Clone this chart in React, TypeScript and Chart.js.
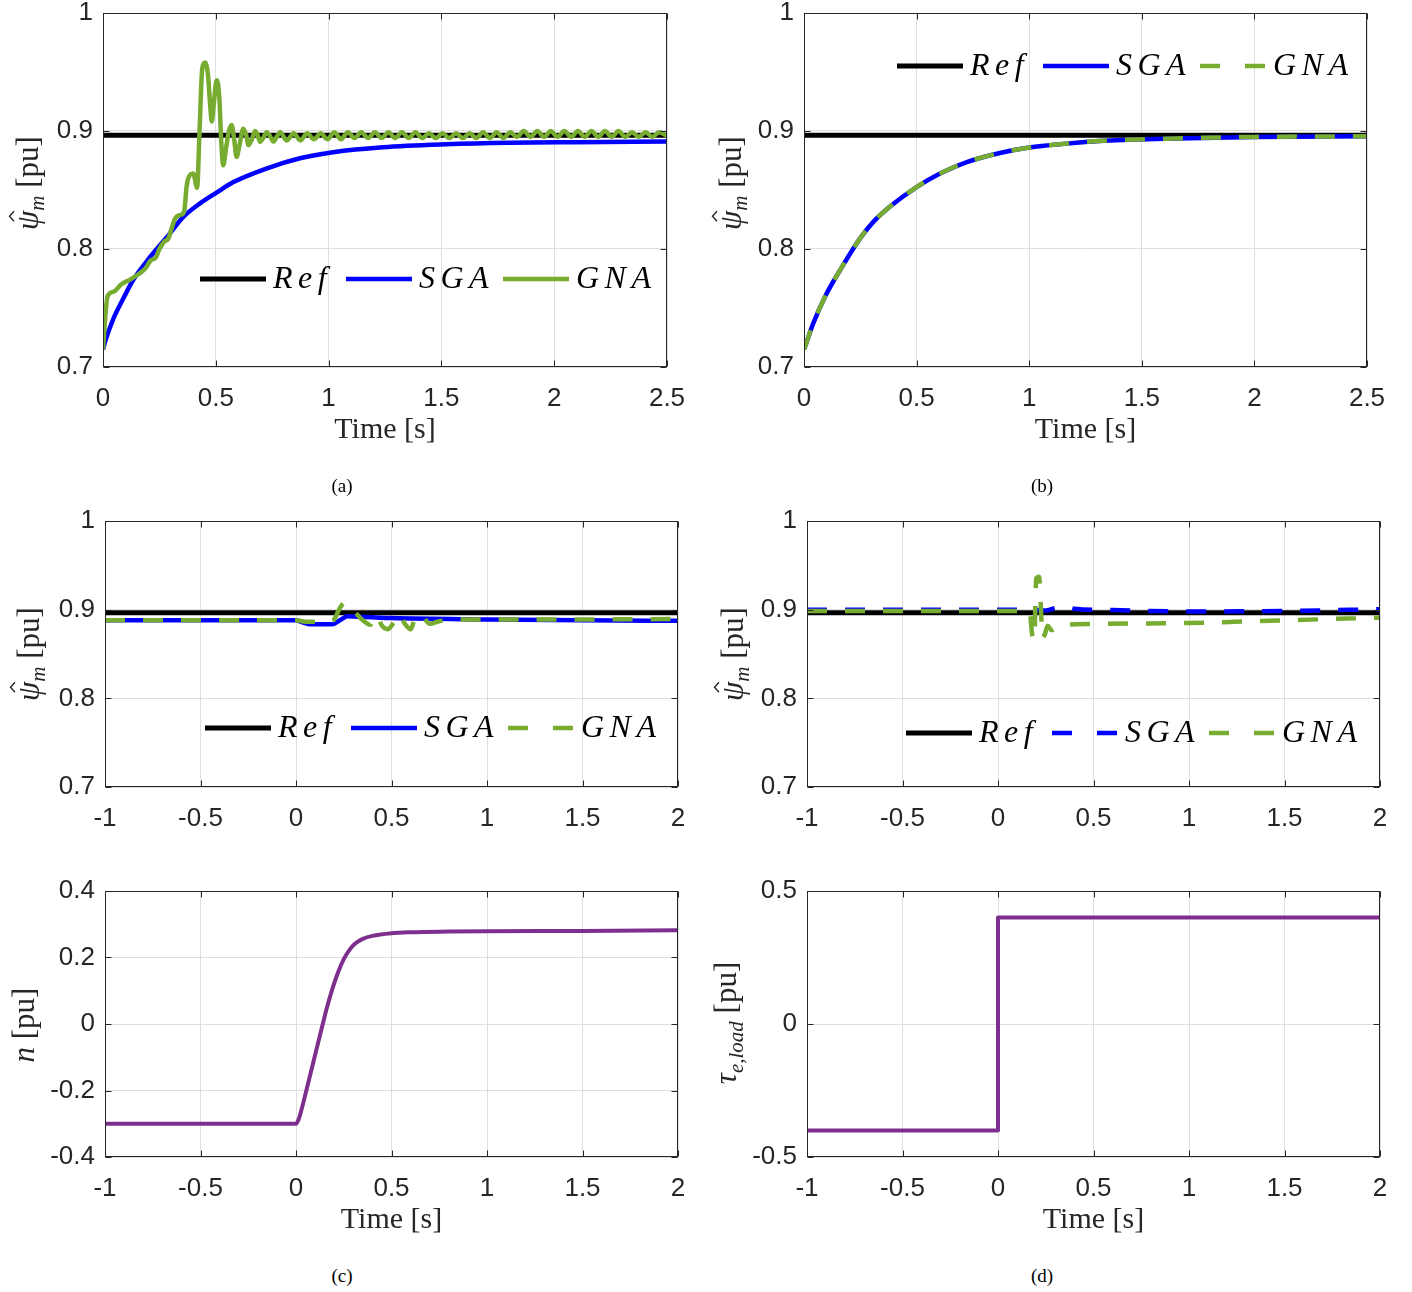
import React, { useEffect, useRef } from 'react';
import { Chart, registerables } from 'chart.js';

Chart.register(...registerables);

// ---------------- DATA ----------------
// Panel (a): start-up, psi_m estimate [pu] vs time [s]
const refA: [number, number][] = [[0, 0.8965], [2.5, 0.8965]];
const sgaA: [number, number][] = [
  [0, 0.715], [0.01, 0.722], [0.044, 0.74], [0.09, 0.758], [0.133, 0.7735], [0.208, 0.793],
  [0.283, 0.81], [0.355, 0.827], [0.43, 0.8387], [0.505, 0.848], [0.576, 0.8565], [0.727, 0.8684],
  [0.873, 0.8769], [1.02, 0.882], [1.24, 0.8862], [1.52, 0.8887], [1.8, 0.89], [2.1, 0.8905], [2.5, 0.891],
];
const gnaA: [number, number][] = [
  [0, 0.715], [0.01, 0.742], [0.02, 0.76], [0.05, 0.764], [0.08, 0.77], [0.12, 0.774], [0.16, 0.779],
  [0.19, 0.784], [0.21, 0.79], [0.235, 0.793], [0.25, 0.8], [0.27, 0.806], [0.29, 0.809], [0.305, 0.818],
  [0.32, 0.826], [0.345, 0.829], [0.36, 0.832], [0.37, 0.852], [0.378, 0.86], [0.4, 0.864], [0.417, 0.852],
  [0.428, 0.9], [0.44, 0.953], [0.452, 0.958], [0.465, 0.948], [0.475, 0.922], [0.482, 0.908], [0.492, 0.925],
  [0.504, 0.943], [0.515, 0.93], [0.525, 0.888], [0.533, 0.871], [0.545, 0.885], [0.557, 0.899], [0.57, 0.905],
  [0.582, 0.892], [0.592, 0.878], [0.605, 0.888], [0.622, 0.902], [0.634, 0.897], [0.645, 0.888], [0.66, 0.893],
  [0.674, 0.9], [0.686, 0.896], [0.696, 0.8907], [0.71, 0.894], [0.726, 0.899], [0.74, 0.896], [0.755, 0.891],
  [0.77, 0.895], [0.785, 0.899], [0.815, 0.892], [0.845, 0.898], [0.875, 0.892], [0.905, 0.898], [0.935, 0.893],
  [0.965, 0.898], [0.995, 0.893], [1.025, 0.899], [1.055, 0.893], [1.085, 0.899], [1.115, 0.894], [1.145, 0.899],
  [1.175, 0.894], [1.205, 0.899], [1.235, 0.894], [1.265, 0.899], [1.295, 0.894], [1.325, 0.899], [1.355, 0.894],
  [1.385, 0.899], [1.415, 0.894], [1.445, 0.898], [1.475, 0.894], [1.505, 0.898], [1.535, 0.894], [1.565, 0.898],
  [1.595, 0.894], [1.625, 0.898], [1.655, 0.894], [1.685, 0.899], [1.715, 0.894], [1.745, 0.899], [1.775, 0.894],
  [1.805, 0.899], [1.835, 0.895], [1.865, 0.9], [1.895, 0.895], [1.925, 0.9], [1.955, 0.895], [1.985, 0.9],
  [2.015, 0.895], [2.045, 0.9], [2.075, 0.895], [2.105, 0.9], [2.135, 0.895], [2.165, 0.9], [2.195, 0.895],
  [2.225, 0.9], [2.255, 0.895], [2.285, 0.9], [2.315, 0.895], [2.345, 0.899], [2.375, 0.895], [2.405, 0.899],
  [2.435, 0.895], [2.465, 0.899], [2.5, 0.896],
];

// Panel (b)
const refB: [number, number][] = [[0, 0.8965], [2.5, 0.8965]];
const sgaB: [number, number][] = [
  [0, 0.715], [0.004, 0.717], [0.041, 0.737], [0.1, 0.762], [0.16, 0.782], [0.249, 0.809], [0.308, 0.823],
  [0.382, 0.836], [0.5, 0.8525], [0.604, 0.864], [0.723, 0.8737], [0.87, 0.8814], [1.0, 0.886], [1.166, 0.8893],
  [1.31, 0.8915], [1.6, 0.8935], [2.0, 0.895], [2.5, 0.8955],
];
const gnaB: [number, number][] = [
  [0, 0.715], [0.004, 0.717], [0.041, 0.737], [0.1, 0.762], [0.16, 0.782], [0.249, 0.809], [0.308, 0.823],
  [0.382, 0.836], [0.5, 0.8525], [0.604, 0.864], [0.723, 0.8737], [0.87, 0.8814], [1.0, 0.886], [1.166, 0.8893],
  [1.31, 0.8915], [1.6, 0.8935], [2.0, 0.895], [2.5, 0.8955],
];

// Panel (c) top
const refC: [number, number][] = [[-1, 0.8965], [2, 0.8965]];
const sgaC: [number, number][] = [
  [-1, 0.888], [0, 0.888], [0.03, 0.886], [0.07, 0.8835], [0.19, 0.8835], [0.23, 0.888], [0.27, 0.8925],
  [0.32, 0.892], [0.5, 0.8905], [1.0, 0.889], [1.5, 0.888], [2.0, 0.8875],
];
const gnaC: [number, number][] = [
  [-1, 0.888], [0, 0.888], [0.05, 0.8865], [0.17, 0.8865], [0.2, 0.889], [0.23, 0.902], [0.255, 0.908],
  [0.28, 0.904], [0.31, 0.897], [0.35, 0.888], [0.39, 0.883], [0.42, 0.894], [0.45, 0.882], [0.48, 0.878],
  [0.51, 0.885], [0.54, 0.895], [0.57, 0.884], [0.6, 0.878], [0.63, 0.894], [0.66, 0.893], [0.7, 0.884],
  [0.75, 0.887], [0.85, 0.889], [1.0, 0.889], [1.5, 0.889], [2.0, 0.8895],
];
// Panel (c) bottom: speed n [pu]
const speedC: [number, number][] = [
  [-1, -0.3], [0, -0.3], [0.015, -0.285], [0.03, -0.255], [0.05, -0.21], [0.08, -0.14], [0.11, -0.07],
  [0.136, -0.01], [0.16, 0.045], [0.19, 0.105], [0.22, 0.155], [0.25, 0.195], [0.28, 0.223], [0.31, 0.242],
  [0.35, 0.256], [0.4, 0.265], [0.5, 0.273], [0.6, 0.276], [0.8, 0.278], [1.0, 0.279], [1.5, 0.28], [2.0, 0.282],
];

// Panel (d) top
const refD: [number, number][] = [[-1, 0.8965], [2, 0.8965]];
const sgaD: [number, number][] = [
  [-1, 0.9], [0.2, 0.9], [0.25, 0.899], [0.3, 0.902], [0.35, 0.9035], [0.4, 0.901], [0.6, 0.8995],
  [1.0, 0.898], [1.5, 0.8985], [2.0, 0.9005],
];
const gnaD: [number, number][] = [
  [-1, 0.8985], [0.165, 0.8985], [0.18, 0.87], [0.19, 0.866], [0.2, 0.935], [0.215, 0.937], [0.225, 0.9],
  [0.232, 0.868], [0.245, 0.872], [0.26, 0.882], [0.28, 0.877], [0.32, 0.882], [0.5, 0.884], [1.0, 0.885],
  [1.5, 0.888], [2.0, 0.891],
];
// Panel (d) bottom: load torque step [pu]
const torqueD: [number, number][] = [[-1, -0.4], [0, -0.4], [0, 0.4], [2, 0.4]];

// Ticks
const xTicksTop = [0, 0.5, 1, 1.5, 2, 2.5];
const xTickLabelsTop = ['0', '0.5', '1', '1.5', '2', '2.5'];
const xTicksCD = [-1, -0.5, 0, 0.5, 1, 1.5, 2];
const xTickLabelsCD = ['-1', '-0.5', '0', '0.5', '1', '1.5', '2'];
const yTicksPsi = [0.7, 0.8, 0.9, 1];
const yTickLabelsPsi = ['0.7', '0.8', '0.9', '1'];
const yTicksN = [-0.4, -0.2, 0, 0.2, 0.4];
const yTickLabelsN = ['-0.4', '-0.2', '0', '0.2', '0.4'];
const yTicksTau = [-0.5, 0, 0.5];
const yTickLabelsTau = ['-0.5', '0', '0.5'];

const legendLabels = ['Ref', 'SGA', 'GNA'];
const captions = ['(a)', '(b)', '(c)', '(d)'];

// ---------------- STYLE ----------------
const BLACK = '#000000';
const BLUE = '#0000ff';
const GREEN = '#77ac30';
const PURPLE = '#7e2f8e';
const DASH = [20, 18];
const PT = 30;
const PR = 40;
const YW = 100;
const TICK_FONT = '"Liberation Sans", Arial, sans-serif';
const SERIF = '"Liberation Serif", "Times New Roman", serif';

type Series = { pts: [number, number][]; color: string; width: number; dash?: number[]; order: number; step?: boolean };
type LegendItem = { label: string; color: string; dash?: number[] };
type PanelCfg = {
  key: string;
  area: [number, number, number, number];
  xh: number;
  xMin: number; xMax: number; xTicks: number[]; xLabels: string[];
  yMin: number; yMax: number; yTicks: number[]; yLabels: string[];
  series: Series[];
  legend?: { xs: number[]; y: number; items: LegendItem[] };
  yTitle: 'psi' | 'n' | 'tau';
  yTitlePos: [number, number];
  xTitle: boolean;
};

const panels: PanelCfg[] = [
  {
    key: 'a', area: [103, 13, 667, 367], xh: 93,
    xMin: 0, xMax: 2.5, xTicks: xTicksTop, xLabels: xTickLabelsTop,
    yMin: 0.7, yMax: 1, yTicks: yTicksPsi, yLabels: yTickLabelsPsi,
    series: [
      { pts: refA, color: BLACK, width: 5, order: 3 },
      { pts: sgaA, color: BLUE, width: 4.5, order: 2 },
      { pts: gnaA, color: GREEN, width: 4.5, order: 1 },
    ],
    legend: { xs: [97, 243, 400], y: 266, items: [
      { label: legendLabels[0], color: BLACK }, { label: legendLabels[1], color: BLUE }, { label: legendLabels[2], color: GREEN }] },
    yTitle: 'psi', yTitlePos: [30, 183], xTitle: true,
  },
  {
    key: 'b', area: [804, 13, 1367, 367], xh: 93,
    xMin: 0, xMax: 2.5, xTicks: xTicksTop, xLabels: xTickLabelsTop,
    yMin: 0.7, yMax: 1, yTicks: yTicksPsi, yLabels: yTickLabelsPsi,
    series: [
      { pts: refB, color: BLACK, width: 5, order: 3 },
      { pts: sgaB, color: BLUE, width: 4.5, order: 2 },
      { pts: gnaB, color: GREEN, width: 4.5, dash: DASH, order: 1 },
    ],
    legend: { xs: [93, 239, 396], y: 53, items: [
      { label: legendLabels[0], color: BLACK }, { label: legendLabels[1], color: BLUE }, { label: legendLabels[2], color: GREEN, dash: [20, 25] }] },
    yTitle: 'psi', yTitlePos: [733, 183], xTitle: true,
  },
  {
    key: 'c1', area: [105, 521, 678, 787], xh: 50,
    xMin: -1, xMax: 2, xTicks: xTicksCD, xLabels: xTickLabelsCD,
    yMin: 0.7, yMax: 1, yTicks: yTicksPsi, yLabels: yTickLabelsPsi,
    series: [
      { pts: refC, color: BLACK, width: 5, order: 3 },
      { pts: sgaC, color: BLUE, width: 4.5, order: 2 },
      { pts: gnaC, color: GREEN, width: 4.5, dash: DASH, order: 1 },
    ],
    legend: { xs: [100, 246, 403], y: 207, items: [
      { label: legendLabels[0], color: BLACK }, { label: legendLabels[1], color: BLUE }, { label: legendLabels[2], color: GREEN, dash: [20, 25] }] },
    yTitle: 'psi', yTitlePos: [31, 654], xTitle: false,
  },
  {
    key: 'd1', area: [807, 521, 1380, 787], xh: 50,
    xMin: -1, xMax: 2, xTicks: xTicksCD, xLabels: xTickLabelsCD,
    yMin: 0.7, yMax: 1, yTicks: yTicksPsi, yLabels: yTickLabelsPsi,
    series: [
      { pts: refD, color: BLACK, width: 5, order: 3 },
      { pts: sgaD, color: BLUE, width: 4.5, dash: DASH, order: 2 },
      { pts: gnaD, color: GREEN, width: 4.5, dash: DASH, order: 1 },
    ],
    legend: { xs: [99, 245, 402], y: 212, items: [
      { label: legendLabels[0], color: BLACK }, { label: legendLabels[1], color: BLUE, dash: [20, 25] }, { label: legendLabels[2], color: GREEN, dash: [20, 25] }] },
    yTitle: 'psi', yTitlePos: [735, 654], xTitle: false,
  },
  {
    key: 'c2', area: [105, 891, 678, 1157], xh: 93,
    xMin: -1, xMax: 2, xTicks: xTicksCD, xLabels: xTickLabelsCD,
    yMin: -0.4, yMax: 0.4, yTicks: yTicksN, yLabels: yTickLabelsN,
    series: [{ pts: speedC, color: PURPLE, width: 4, order: 1 }],
    yTitle: 'n', yTitlePos: [26, 1025], xTitle: true,
  },
  {
    key: 'd2', area: [807, 891, 1380, 1157], xh: 93,
    xMin: -1, xMax: 2, xTicks: xTicksCD, xLabels: xTickLabelsCD,
    yMin: -0.5, yMax: 0.5, yTicks: yTicksTau, yLabels: yTickLabelsTau,
    series: [{ pts: torqueD, color: PURPLE, width: 4, order: 1, step: true }],
    yTitle: 'tau', yTitlePos: [728, 1023], xTitle: true,
  },
];

const captionPos: [number, number][] = [[342, 486], [1042, 486], [342, 1276], [1042, 1276]];

// ---------------- DRAW HELPERS ----------------
function drawSpaced(ctx: CanvasRenderingContext2D, text: string, x: number, y: number, spacing: number) {
  let cx = x;
  for (const ch of text) {
    ctx.fillText(ch, cx, y);
    cx += ctx.measureText(ch).width + spacing;
  }
}

function drawYTitle(ctx: CanvasRenderingContext2D, kind: string, cx: number, cy: number) {
  const big = `31px ${SERIF}`;
  const bigI = `italic 31px ${SERIF}`;
  const subI = `italic 21px ${SERIF}`;
  let parts: { t: string; f: string; dy: number; hat?: boolean }[] = [];
  if (kind === 'psi') parts = [{ t: 'ψ', f: bigI, dy: 0, hat: true }, { t: 'm', f: subI, dy: 6 }, { t: ' [pu]', f: big, dy: 0 }];
  else if (kind === 'n') parts = [{ t: 'n', f: bigI, dy: 0 }, { t: ' [pu]', f: big, dy: 0 }];
  else parts = [{ t: 'τ', f: bigI, dy: 0 }, { t: 'e,load', f: subI, dy: 7 }, { t: ' [pu]', f: big, dy: 0 }];
  ctx.save();
  ctx.translate(cx, cy);
  ctx.rotate(-Math.PI / 2);
  ctx.fillStyle = '#262626';
  ctx.strokeStyle = '#262626';
  ctx.textBaseline = 'alphabetic';
  ctx.textAlign = 'left';
  let total = 0;
  const widths = parts.map((p) => { ctx.font = p.f; const w = ctx.measureText(p.t).width; total += w; return w; });
  let x = -total / 2;
  const base = 8;
  parts.forEach((p, i) => {
    ctx.font = p.f;
    ctx.fillText(p.t, x, base + p.dy);
    if (p.hat) {
      const hx = x + widths[i] * 0.55 + 3;
      const hy = base - 27;
      ctx.lineWidth = 1.4;
      ctx.beginPath();
      ctx.moveTo(hx - 5, hy + 3);
      ctx.lineTo(hx, hy - 1.5);
      ctx.lineTo(hx + 5, hy + 3);
      ctx.stroke();
    }
    x += widths[i];
  });
  ctx.restore();
}

const decorPlugin = {
  id: 'decor',
  afterDraw(chart: any, _args: any, opts: any) {
    const { ctx, chartArea: ca, scales } = chart;
    const cfg: PanelCfg = opts.cfg;
    const offX: number = opts.offX;
    const offY: number = opts.offY;
    ctx.save();
    ctx.setLineDash([]);
    ctx.strokeStyle = '#262626';
    ctx.lineWidth = 1;
    const L = Math.round(ca.left) + 0.5, R = Math.round(ca.right) - 0.5;
    const T = Math.round(ca.top) + 0.5, B = Math.round(ca.bottom) - 0.5;
    ctx.strokeRect(L, T, R - L, B - T);
    const tl = 6;
    ctx.beginPath();
    cfg.xTicks.forEach((v) => {
      const px = Math.round(scales.x.getPixelForValue(v)) + 0.5;
      ctx.moveTo(px, B); ctx.lineTo(px, B - tl);
      ctx.moveTo(px, T); ctx.lineTo(px, T + tl);
    });
    cfg.yTicks.forEach((v) => {
      const py = Math.round(scales.y.getPixelForValue(v)) + 0.5;
      ctx.moveTo(L, py); ctx.lineTo(L + tl, py);
      ctx.moveTo(R, py); ctx.lineTo(R - tl, py);
    });
    ctx.stroke();

    // legend (transparent box, inside the axes)
    if (cfg.legend) {
      const lg = cfg.legend;
      lg.items.forEach((it, i) => {
        const x = ca.left + lg.xs[i];
        const y = ca.top + lg.y;
        ctx.strokeStyle = it.color;
        ctx.lineWidth = it.color === BLACK ? 5 : 4.5;
        ctx.setLineDash(it.dash || []);
        ctx.beginPath();
        ctx.moveTo(x, y);
        ctx.lineTo(x + 66, y);
        ctx.stroke();
        ctx.setLineDash([]);
        ctx.fillStyle = '#000';
        ctx.font = `italic 32px ${SERIF}`;
        ctx.textBaseline = 'middle';
        ctx.textAlign = 'left';
        drawSpaced(ctx, it.label, x + 73, y + 1, 5.5);
      });
    }

    // x title
    if (cfg.xTitle) {
      ctx.fillStyle = '#262626';
      ctx.font = `30px ${SERIF}`;
      ctx.textAlign = 'center';
      ctx.textBaseline = 'alphabetic';
      ctx.fillText('Time [s]', (ca.left + ca.right) / 2, ca.bottom + 71);
    }
    ctx.restore();

    drawYTitle(ctx, cfg.yTitle, cfg.yTitlePos[0] - offX, cfg.yTitlePos[1] - offY);
  },
};

function canvasBox(cfg: PanelCfg) {
  const [x0, y0, x1, y1] = cfg.area;
  return { left: x0 - YW, top: y0 - PT, width: x1 - x0 + YW + PR, height: y1 - y0 + PT + cfg.xh };
}

function buildConfig(cfg: PanelCfg): any {
  const box = canvasBox(cfg);
  return {
    type: 'line',
    data: {
      datasets: cfg.series.map((s) => ({
        data: s.pts.map(([x, y]) => ({ x, y })),
        borderColor: s.color,
        backgroundColor: s.color,
        borderWidth: s.width,
        borderDash: s.dash || [],
        borderCapStyle: 'butt',
        borderJoinStyle: 'round',
        pointRadius: 0,
        fill: false,
        tension: 0,
        cubicInterpolationMode: s.step ? 'default' : 'monotone',
        order: s.order,
      })),
    },
    options: {
      responsive: false,
      animation: false,
      events: [],
      layout: { padding: { top: PT, right: PR, left: 0, bottom: 0 } },
      plugins: {
        legend: { display: false },
        tooltip: { enabled: false },
        decor: { cfg, offX: box.left, offY: box.top },
      },
      scales: {
        x: {
          type: 'linear',
          min: cfg.xMin,
          max: cfg.xMax,
          afterBuildTicks: (sc: any) => { sc.ticks = cfg.xTicks.map((v) => ({ value: v })); },
          afterFit: (sc: any) => { sc.height = cfg.xh; },
          grid: { color: '#dfdfdf', lineWidth: 1, drawTicks: false },
          border: { display: false },
          ticks: {
            padding: 19,
            autoSkip: false,
            maxRotation: 0,
            color: '#262626',
            font: { family: TICK_FONT, size: 26, lineHeight: 1 },
            callback: (_v: any, i: number) => cfg.xLabels[i],
          },
        },
        y: {
          type: 'linear',
          min: cfg.yMin,
          max: cfg.yMax,
          afterBuildTicks: (sc: any) => { sc.ticks = cfg.yTicks.map((v) => ({ value: v })); },
          afterFit: (sc: any) => { sc.width = YW; },
          grid: { color: '#dfdfdf', lineWidth: 1, drawTicks: false },
          border: { display: false },
          ticks: {
            padding: 10,
            autoSkip: false,
            color: '#262626',
            font: { family: TICK_FONT, size: 26, lineHeight: 1 },
            callback: (_v: any, i: number) => cfg.yLabels[i],
          },
        },
      },
    },
    plugins: [decorPlugin],
  };
}

function Panel({ cfg }: { cfg: PanelCfg }) {
  const ref = useRef<HTMLCanvasElement | null>(null);
  const box = canvasBox(cfg);
  useEffect(() => {
    if (!ref.current) return;
    const chart = new Chart(ref.current, buildConfig(cfg));
    return () => chart.destroy();
  }, []);
  return (
    <canvas
      ref={ref}
      width={box.width}
      height={box.height}
      style={{ position: 'absolute', left: box.left, top: box.top, width: box.width, height: box.height }}
    />
  );
}

export default function App() {
  return (
    <div style={{ position: 'absolute', left: 0, top: 0, width: 1412, height: 1292, background: '#fff', overflow: 'hidden' }}>
      {panels.map((p) => <Panel key={p.key} cfg={p} />)}
      {captions.map((c, i) => (
        <div
          key={c}
          style={{
            position: 'absolute', left: captionPos[i][0] - 50, top: captionPos[i][1] - 11, width: 100,
            textAlign: 'center', font: `19px ${SERIF}`, lineHeight: '22px', color: '#000',
          }}
        >
          {c}
        </div>
      ))}
    </div>
  );
}
